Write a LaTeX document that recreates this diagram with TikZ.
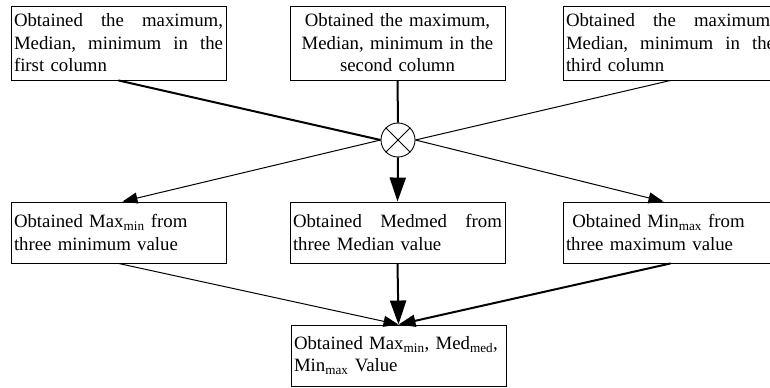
\documentclass[tikz,border=0pt]{standalone}
\usepackage{fontspec}
\setmainfont{Liberation Serif}
\usepackage{tikz}
\usetikzlibrary{arrows.meta, positioning, calc}

\begin{document}
\begin{tikzpicture}[
    x=1pt, y=-1pt,
    stepbox/.style={draw, line width=0.9pt, minimum width=215pt, inner sep=3pt,
      text width=209pt, font=\fontsize{18.8}{22.5}\selectfont},
    tallbox/.style={stepbox, minimum height=74pt},
    lowbox/.style={stepbox, minimum height=61pt},
    thinline/.style={line width=1pt},
    thickline/.style={line width=2pt},
    thinarrow/.style={thinline, -{Triangle[length=15pt, width=11pt]}},
    thickarrow/.style={thickline, -{Triangle[length=24pt, width=16pt]}}
  ]
  \useasboundingbox (0,0) rectangle (770,387.5);
  \clip (0,0) rectangle (770,387.5);

  \node[tallbox, align=left] (col1) at (118.5,43) {
    Obtained\hfill the\hfill maximum,\\
    Median,\hfill minimum\hfill in\hfill the\\
    first column};
  \node[tallbox, align=center] (col2) at (397.5,43) {
    Obtained the maximum,\\
    Median, minimum in the\\
    second column};
  \node[tallbox, align=left] (col3) at (670.5,43) {
    Obtained\hfill the\hfill maximum,\\
    Median,\hfill minimum\hfill in\hfill the\\
    third column};

  \node[draw, circle, line width=0.9pt, minimum size=34pt, inner sep=0pt] (mix) at (398,140) {};
  \draw[line width=0.9pt] (mix.north west) -- (mix.south east)
    (mix.north east) -- (mix.south west);

  \node[lowbox, align=left] (maxmin) at (118.5,232.5) {
    Obtained Max\textsubscript{min} from\\
    three minimum value};
  \node[lowbox, align=left] (medmed) at (397.5,232.5) {
    Obtained\hfill Medmed\hfill from\\
    three Median value};
  \node[lowbox, align=left] (minmax) at (670.5,232.5) {
    \ Obtained Min\textsubscript{max} from\\
    three maximum value};

  \node[lowbox, align=left] (result) at (398.5,355.5) {
    Obtained Max\textsubscript{min}, Med\textsubscript{med},\\
    Min\textsubscript{max} Value};

  \draw[thickline] (col1.south) -- (mix.west);
  \draw[thickline] (col2.south) -- (mix.north);
  \draw[thinline] (col3.south) -- (mix.east);

  \draw[thinarrow] (mix.west) -- ([xshift=4pt]maxmin.north);
  \draw[thickarrow] (mix.south) -- (medmed.north);
  \draw[thinarrow] (mix.east) -- ([xshift=-7pt]minmax.north);

  \draw[thinarrow] (maxmin.south) -- (result.north);
  \draw[thickarrow] (medmed.south) -- (result.north);
  \draw[thickline, -{Triangle[length=17pt, width=12pt]}] (minmax.south) -- (result.north);
\end{tikzpicture}
\end{document}
